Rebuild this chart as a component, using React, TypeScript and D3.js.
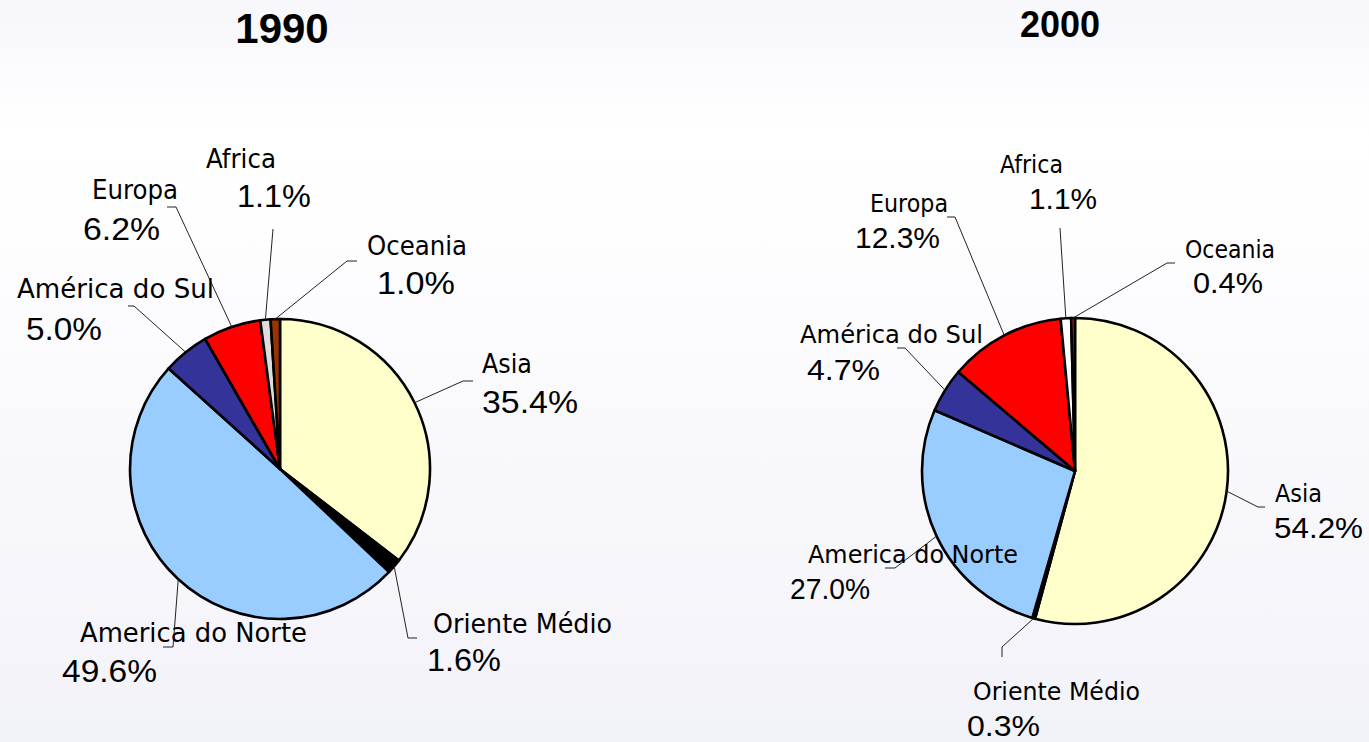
import React from "react";
import * as d3 from "d3";

const regions = ["Asia", "Oriente Médio", "America do Norte", "América do Sul", "Europa", "Africa", "Oceania"];
const share1990 = [35.4, 1.6, 49.6, 5.0, 6.2, 1.1, 1.0];
const share2000 = [54.2, 0.3, 27.0, 4.7, 12.3, 1.1, 0.4];
const years = ["1990", "2000"];

const W = 1369;
const H = 742;

const colors1990 = ["#FFFFCC", "#000000", "#99CCFF", "#333399", "#FF0000", "#DDDDDD", "#993300"];
const colors2000 = ["#FFFFCC", "#000000", "#99CCFF", "#333399", "#FF0000", "#FFFFFF", "#993300"];

// label layout: name x/baseline/width, pct x/baseline/width, leader elbow + end
type Lbl = { nx: number; ny: number; nw: number; px: number; py: number; pw: number; elbow: [number, number]; end: [number, number] };

const labels1990: Lbl[] = [
  { nx: 482, ny: 373, nw: 50, px: 482, py: 413, pw: 96, elbow: [463, 381], end: [473, 381] },
  { nx: 433, ny: 633, nw: 179, px: 427, py: 671, pw: 74, elbow: [408, 638], end: [417, 638] },
  { nx: 80, ny: 642, nw: 227, px: 62, py: 682, pw: 95, elbow: [173, 647], end: [163, 647] },
  { nx: 17, ny: 298, nw: 197, px: 26, py: 340, pw: 76, elbow: [134, 306], end: [128, 306] },
  { nx: 92, ny: 199, nw: 86, px: 83, py: 240, pw: 77, elbow: [176, 207], end: [167, 207] },
  { nx: 206, ny: 168, nw: 70, px: 237, py: 207, pw: 74, elbow: [273, 229], end: [273, 229] },
  { nx: 367, ny: 255, nw: 100, px: 377, py: 294, pw: 78, elbow: [347, 261], end: [357, 261] },
];

const labels2000: Lbl[] = [
  { nx: 1275, ny: 502, nw: 47, px: 1274, py: 538, pw: 89, elbow: [1258, 507], end: [1265, 507] },
  { nx: 973, ny: 700, nw: 167, px: 967, py: 736, pw: 73, elbow: [1002, 647], end: [1002, 657] },
  { nx: 808, ny: 563, nw: 210, px: 790, py: 599, pw: 80, elbow: [895, 568], end: [885, 568] },
  { nx: 800, ny: 343, nw: 183, px: 807, py: 380, pw: 73, elbow: [905, 348], end: [897, 348] },
  { nx: 870, ny: 212, nw: 78, px: 855, py: 248, pw: 85, elbow: [955, 217], end: [947, 217] },
  { nx: 1000, ny: 173, nw: 63, px: 1029, py: 209, pw: 68, elbow: [1060, 228], end: [1060, 228] },
  { nx: 1185, ny: 258, nw: 90, px: 1193, py: 293, pw: 70, elbow: [1167, 263], end: [1175, 263] },
];

const pies = [
  { values: share1990, colors: colors1990, labels: labels1990, cx: 280, cy: 469, r: 150, title: { x: 282, y: 43, size: 42 }, nameSize: 26, pctSize: 31 },
  { values: share2000, colors: colors2000, labels: labels2000, cx: 1075, cy: 471, r: 153, title: { x: 1060, y: 37, size: 36 }, nameSize: 25, pctSize: 29 },
];

const fmt = (v: number) => d3.format(".1f")(v) + "%";

const PieChart = ({ p, year }: { p: (typeof pies)[number]; year: string }) => {
  const pie = d3.pie<number>().sort(null).value((d) => d);
  const arcs = pie(p.values);
  const arc = d3.arc<d3.PieArcDatum<number>>().innerRadius(0).outerRadius(p.r);
  const edge = d3.arc<d3.PieArcDatum<number>>().innerRadius(p.r).outerRadius(p.r);
  const line = d3.line();

  return (
    <g>
      <text x={p.title.x} y={p.title.y} textAnchor="middle" fontFamily="'Liberation Sans', Arial, sans-serif" fontWeight="bold" fontSize={p.title.size} fill="#000">
        {year}
      </text>
      <g transform={`translate(${p.cx},${p.cy})`}>
        {arcs.map((a, i) => (
          <path key={i} d={arc(a) || ""} fill={p.colors[i]} stroke="#000" strokeWidth={2.6} strokeLinejoin="round" />
        ))}
      </g>
      {arcs.map((a, i) => {
        const [ex, ey] = edge.centroid(a);
        const l = p.labels[i];
        const pts: [number, number][] = [[p.cx + ex, p.cy + ey], l.elbow, l.end];
        return <path key={"l" + i} d={line(pts) || ""} fill="none" stroke="#222" strokeWidth={1} />;
      })}
      {arcs.map((a, i) => {
        const l = p.labels[i];
        return (
          <g key={"t" + i} fill="#000">
            <text x={l.nx} y={l.ny} fontFamily="'DejaVu Sans Condensed', 'DejaVu Sans', sans-serif" fontSize={p.nameSize} textLength={l.nw} lengthAdjust="spacingAndGlyphs">
              {regions[i]}
            </text>
            <text x={l.px} y={l.py} fontFamily="'Liberation Sans', Arial, sans-serif" fontSize={p.pctSize} textLength={l.pw} lengthAdjust="spacingAndGlyphs">
              {fmt(a.data)}
            </text>
          </g>
        );
      })}
    </g>
  );
};

export default function App() {
  return (
    <div style={{ position: "fixed", left: 0, top: 0, width: W, height: H }}>
      <svg width={W} height={H} style={{ display: "block" }}>
        <defs>
          <linearGradient id="bg" x1="0" y1="0" x2="0" y2="1">
            <stop offset="0%" stopColor="#F7F7FC" />
            <stop offset="18%" stopColor="#FFFFFF" />
            <stop offset="30%" stopColor="#FEFEFF" />
            <stop offset="100%" stopColor="#F2F2F9" />
          </linearGradient>
        </defs>
        <rect x={0} y={0} width={W} height={H} fill="url(#bg)" />
        {pies.map((p, i) => (
          <PieChart key={years[i]} p={p} year={years[i]} />
        ))}
      </svg>
    </div>
  );
}
